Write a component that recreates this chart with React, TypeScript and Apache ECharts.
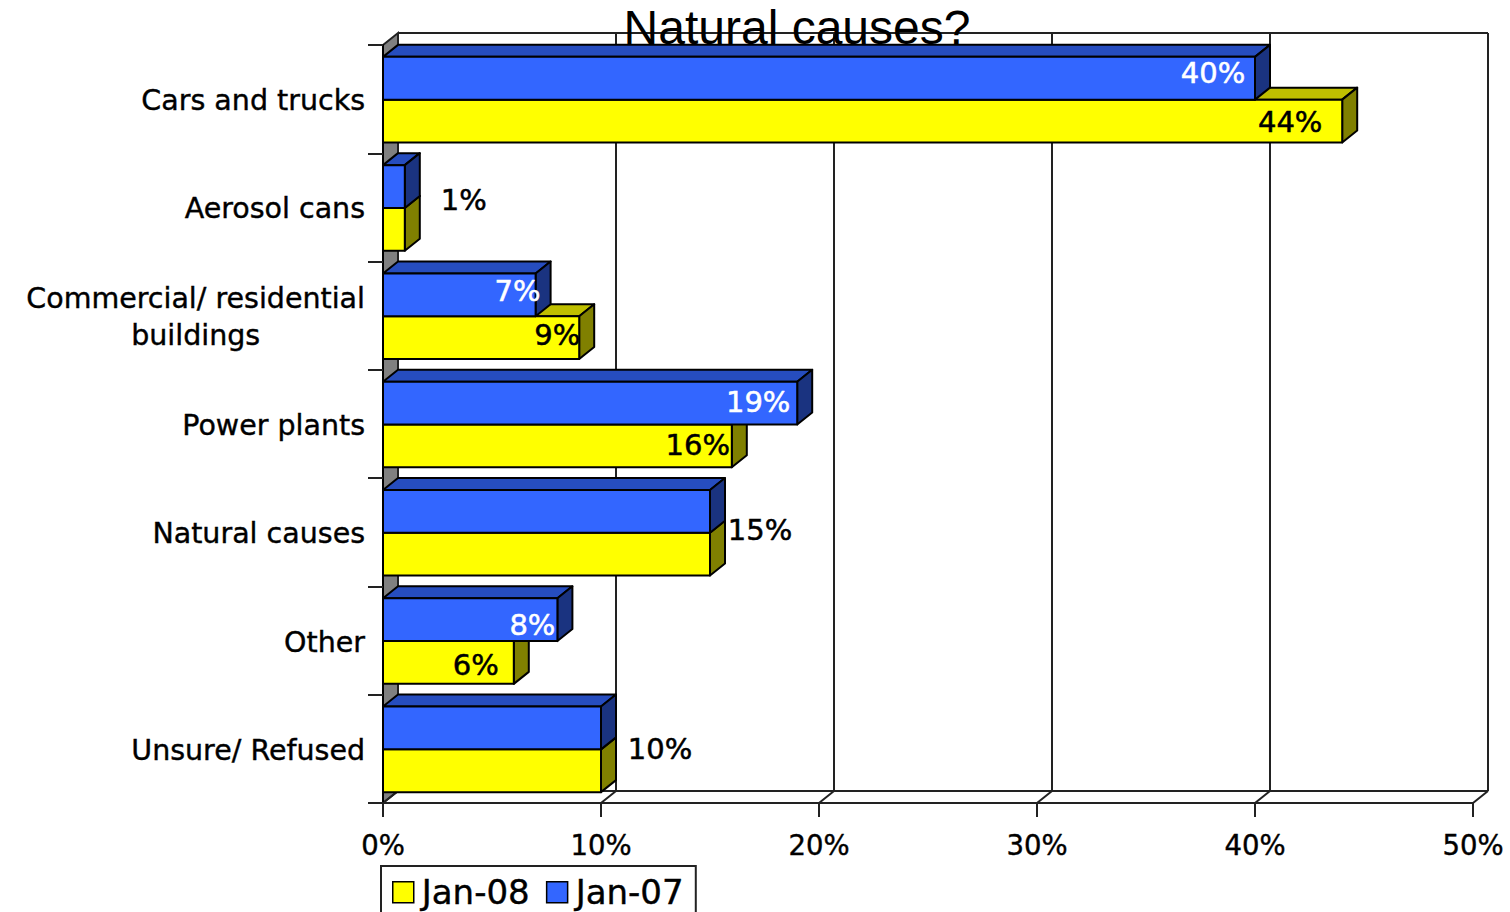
import React, { useEffect, useRef } from "react";
import * as echarts from "echarts";

const categories = [
  "Cars and trucks",
  "Aerosol cans",
  "Commercial/ residential\nbuildings",
  "Power plants",
  "Natural causes",
  "Other",
  "Unsure/ Refused",
];
const jan07 = [40, 1, 7, 19, 15, 8, 10];
const jan08 = [44, 1, 9, 16, 15, 6, 10];
const axisTicks = [0, 10, 20, 30, 40, 50];
const labelsJan07 = ["40%", "1%", "7%", "19%", "15%", "8%", "10%"];
const labelsJan08 = ["44%", "", "9%", "16%", "", "6%", ""];

const DEPTH_X = 15;
const DEPTH_Y = 12;
const FONT = "'DejaVu Sans', Verdana, sans-serif";
const LINE = "#222";

// label centre relative to the bar's front-face end and category centre
const offsetsJan07 = [
  [-42, -26], [59, -7], [-18, -25], [-39, -22], [50, -2], [-25, -16], [59, 0],
];
const offsetsJan08 = [
  [-52, 23], [0, 0], [-22, 19], [-34, 21], [0, 0], [-38, 24], [0, 0],
];
const colorsJan07 = ["#fff", "#000", "#fff", "#fff", "#000", "#fff", "#000"];
const colorsJan08 = ["#000", "#000", "#000", "#000", "#000", "#000", "#000"];

function barRenderer(front: string, top: string, side: string, upper: boolean) {
  return (params: any, api: any) => {
    const start = api.coord([0, api.value(1)]);
    const end = api.coord([api.value(0), api.value(1)]);
    const h = api.size([0, 1])[1] * 0.395;
    const x0 = start[0];
    const x1 = end[0];
    const y0 = (upper ? end[1] - h : end[1]) + 0.5;
    const y1 = y0 + h;
    const stroke = { stroke: "#000", lineWidth: 2, lineJoin: "round" };
    return {
      type: "group",
      children: [
        {
          type: "polygon",
          shape: { points: [[x0, y0], [x0 + DEPTH_X, y0 - DEPTH_Y], [x1 + DEPTH_X, y0 - DEPTH_Y], [x1, y0]] },
          style: { fill: top, ...stroke },
        },
        {
          type: "polygon",
          shape: { points: [[x1, y0], [x1 + DEPTH_X, y0 - DEPTH_Y], [x1 + DEPTH_X, y1 - DEPTH_Y], [x1, y1]] },
          style: { fill: side, ...stroke },
        },
        {
          type: "rect",
          shape: { x: x0, y: y0, width: x1 - x0, height: y1 - y0 },
          style: { fill: front, ...stroke },
        },
      ],
    };
  };
}

function wallRenderer(params: any, api: any) {
  const v = api.value(0);
  const cs = params.coordSys;
  const p = api.coord([v, 0]);
  const x = p[0];
  const bottom = cs.y + cs.height;
  const lineStyle = { stroke: LINE, lineWidth: 2 };
  const children: any[] = [
    {
      type: "line",
      shape: { x1: x, y1: bottom, x2: x + DEPTH_X, y2: bottom - DEPTH_Y },
      style: lineStyle,
    },
  ];
  if (v === 0) {
    children.unshift(
      {
        type: "polygon",
        shape: {
          points: [
            [x, cs.y],
            [x + DEPTH_X, cs.y - DEPTH_Y],
            [x + DEPTH_X, bottom - DEPTH_Y],
            [x, bottom],
          ],
        },
        style: { fill: "#808080", ...lineStyle },
      },
      {
        type: "line",
        shape: { x1: x + DEPTH_X, y1: cs.y - DEPTH_Y, x2: x + DEPTH_X + cs.width, y2: cs.y - DEPTH_Y },
        style: lineStyle,
      },
      {
        type: "line",
        shape: { x1: x + DEPTH_X, y1: bottom - DEPTH_Y, x2: x + DEPTH_X + cs.width, y2: bottom - DEPTH_Y },
        style: lineStyle,
      }
    );
  } else {
    children.unshift({
      type: "line",
      shape: { x1: x + DEPTH_X, y1: cs.y - DEPTH_Y, x2: x + DEPTH_X, y2: bottom - DEPTH_Y },
      style: lineStyle,
    });
  }
  return { type: "group", children };
}

function labelRenderer(labels: string[], offsets: number[][], color: string[]) {
  return (params: any, api: any) => {
    const i = api.value(1);
    const p = api.coord([api.value(0), i]);
    const text = labels[i];
    if (!text) return { type: "group", children: [] };
    return {
      type: "text",
      style: {
        x: p[0] + offsets[i][0],
        y: p[1] + offsets[i][1],
        text,
        fill: color[i],
        stroke: color[i],
        lineWidth: 0.5,
        font: `29px ${FONT}`,
        align: "center",
        verticalAlign: "middle",
      },
    };
  };
}

export default function App() {
  const ref = useRef<HTMLDivElement>(null);
  useEffect(() => {
    document.body.style.margin = "0";
    const chart = echarts.init(ref.current!, undefined, { renderer: "svg" });
    chart.setOption({
      animation: false,
      backgroundColor: "#fff",
      title: {
        text: "Natural causes?",
        left: 792,
        top: -2,
        textAlign: "center",
        z: 2,
        textStyle: { fontFamily: "'Liberation Sans', Arial, sans-serif", fontSize: 48, fontWeight: "normal", color: "#000" },
      },
      grid: { left: 383, right: 37, top: 45, bottom: 109, containLabel: false },
      xAxis: {
        type: "value",
        min: 0,
        max: 50,
        interval: 10,
        z: 1,
        splitLine: { show: false },
        axisLine: { show: true, lineStyle: { color: LINE, width: 2 } },
        axisTick: { show: true, length: 14, lineStyle: { color: LINE, width: 2 } },
        axisLabel: {
          formatter: "{value}%", margin: 28, color: "#000", fontFamily: FONT, fontSize: 27.5,
          textBorderColor: "#000", textBorderWidth: 0.4, hideOverlap: false, showMaxLabel: true,
        },
      },
      yAxis: {
        type: "category",
        inverse: true,
        data: categories,
        z: 1,
        axisLine: { show: true, lineStyle: { color: "#000", width: 2 } },
        axisTick: { show: true, length: 15, lineStyle: { color: LINE, width: 2 } },
        axisLabel: {
          margin: 18,
          interval: 0,
          padding: [3, 0, 0, 0],
          formatter: (v: string) =>
            v.split("\n").map((s) => `{c|${s}}`).join("\n"),
          rich: {
            c: {
              align: "center", color: "#000", fontFamily: FONT, fontSize: 28.5, lineHeight: 37,
              textBorderColor: "#000", textBorderWidth: 0.4,
            },
          },
        },
      },
      legend: {
        left: 381,
        top: 866,
        orient: "horizontal",
        selectedMode: false,
        itemWidth: 21,
        itemHeight: 21,
        itemGap: 16,
        padding: [9, 12, 30, 11],
        borderColor: LINE,
        borderWidth: 2,
        backgroundColor: "#fff",
        textStyle: {
          fontFamily: FONT, fontSize: 34, color: "#000", padding: [0, 0, 0, 3],
          textBorderColor: "#000", textBorderWidth: 0.4,
        },
        data: [
          { name: "Jan-08", icon: "rect", itemStyle: { color: "#FFFF00", borderColor: "#000", borderWidth: 1.5 } },
          { name: "Jan-07", icon: "rect", itemStyle: { color: "#3366FF", borderColor: "#000", borderWidth: 1.5 } },
        ],
      },
      series: [
        {
          type: "custom",
          name: "walls",
          z: 0,
          silent: true,
          renderItem: wallRenderer,
          encode: { x: 0 },
          data: axisTicks.map((t) => [t]),
        },
        {
          type: "custom",
          name: "Jan-08",
          z: 3,
          itemStyle: { color: "#FFFF00" },
          renderItem: barRenderer("#FFFF00", "#BFBF00", "#808000", false),
          encode: { x: 0, y: 1 },
          data: jan08.map((v, i) => [v, i]),
        },
        {
          type: "custom",
          name: "Jan-07",
          z: 3,
          itemStyle: { color: "#3366FF" },
          renderItem: barRenderer("#3366FF", "#264DBF", "#1A3380", true),
          encode: { x: 0, y: 1 },
          data: jan07.map((v, i) => [v, i]),
        },
        {
          type: "custom",
          name: "labels07",
          z: 5,
          silent: true,
          renderItem: labelRenderer(labelsJan07, offsetsJan07, colorsJan07),
          encode: { x: 0, y: 1 },
          data: jan07.map((v, i) => [v, i]),
        },
        {
          type: "custom",
          name: "labels08",
          z: 5,
          silent: true,
          renderItem: labelRenderer(labelsJan08, offsetsJan08, colorsJan08),
          encode: { x: 0, y: 1 },
          data: jan08.map((v, i) => [v, i]),
        },
      ],
    });
    return () => chart.dispose();
  }, []);
  return <div ref={ref} style={{ position: "fixed", left: 0, top: 0, width: 1510, height: 912 }} />;
}
